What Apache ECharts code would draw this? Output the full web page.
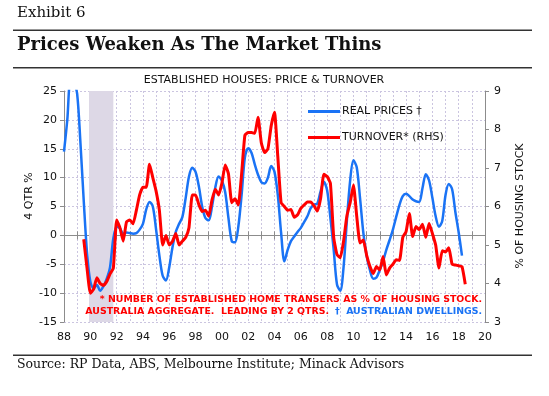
<!DOCTYPE html>
<html>
<head>
<meta charset="utf-8">
<script src="https://cdn.jsdelivr.net/npm/echarts@6/dist/echarts.min.js"></script>
<style>
html,body{margin:0;padding:0;background:#fff;}
#c{width:549px;height:396px;}
</style>
</head>
<body>
<div id="c"></div>
<script>
// Real prices (4 QTR %), quarterly from 1988 Q1
const pricesStart = 1988.0;
const realPrices = [
  14.5, 20, 27, 26.5,
  24.5, 16, 6, -3,
  -8, -9.2, -8.6, -9.6,
  -8.8, -7.5, -5.5, -0.5,
  1.5, 1.2, 0.3, 0.5,
  0.4, 0.3, 0.4, 1.0,
  2.0, 4.5, 5.8, 5.0,
  1.0, -3.5, -7.0, -7.8,
  -5.5, -2.0, 0.6, 2.0,
  3.2, 6.5, 10.2, 11.7,
  11.0, 8.5, 5.0, 3.0,
  2.6, 5.0, 8.3, 10.2,
  9.5, 7.5, 3.0, -1.0,
  -1.2, 1.5, 7.0, 13.5,
  15.1, 14.3, 12.3, 10.5,
  9.2, 9.0, 10.0, 12.0,
  11.0, 7.0, 0.5, -4.5,
  -2.5, -1.0, -0.2, 0.6,
  1.3, 2.3, 3.3, 4.7,
  5.3, 5.5, 7.6, 9.3,
  7.8, 3.0, -2.5, -8.5,
  -9.6, -5.5, 2.5, 9.5,
  13.0, 11.8, 6.5, 0.5,
  -3.5, -6.0, -7.5, -7.3,
  -6.0, -4.5, -2.5, -0.8,
  1.0, 3.2, 5.3, 6.8,
  7.2, 6.8, 6.2, 5.9,
  5.8, 8.2, 10.6, 9.5,
  6.5, 3.3, 1.5, 2.5,
  7.0, 8.9, 8.0, 4.0,
  0.5, -3.5
];
// Turnover (% of housing stock, RHS), quarterly from 1989 Q3
const turnoverStart = 1989.5;
const turnover = [
  5.15, 4.4,
  3.75, 3.85, 4.15, 4.0,
  3.95, 4.05, 4.25, 4.4,
  5.65, 5.45, 5.1, 5.6,
  5.65, 5.55, 5.9, 6.3,
  6.5, 6.5, 7.1, 6.75,
  6.4, 5.9, 5.0, 5.25,
  5.0, 5.1, 5.3, 5.0,
  5.1, 5.2, 5.45, 6.3,
  6.3, 6.05, 5.87, 5.9,
  5.75, 6.17, 6.45, 6.3,
  6.6, 7.08, 6.85, 6.1,
  6.2, 6.04, 6.85, 7.85,
  7.92, 7.92, 7.9, 8.32,
  7.65, 7.4, 7.5, 8.1,
  8.45, 7.3, 6.1, 6.0,
  5.9, 5.92, 5.72, 5.78,
  5.95, 6.04, 6.12, 6.12,
  6.02, 5.88, 6.2, 6.84,
  6.78, 6.6, 5.2, 4.75,
  4.67, 5.1, 5.75, 6.1,
  6.56, 5.75, 5.05, 5.13,
  4.74, 4.45, 4.26, 4.44,
  4.35, 4.7, 4.22, 4.4,
  4.5, 4.62, 4.6, 5.2,
  5.35, 5.82, 5.22, 5.48,
  5.4, 5.54, 5.2, 5.56,
  5.3, 5.0, 4.4, 4.85,
  4.82, 4.93, 4.5, 4.48,
  4.46, 4.44, 3.98
];
const recession = [1989.9, 1991.75];
const xTickYears = [1988, 2020];
const leftTicks = [-15, 25, 5];
const rightTicks = [3, 9, 1];

const blueData = realPrices.map((v, i) => [pricesStart + i * 0.25, v]);
const redData = turnover.map((v, i) => [turnoverStart + i * 0.25, v]);

const BLUE = '#1a73f5';
const RED = '#ff0000';
const GRID = '#cbc5e0';
const AX = '#8c8c8c';
const SANS = '"DejaVu Sans", Verdana, sans-serif';
const SERIF = '"DejaVu Serif", serif';

const chart = echarts.init(document.getElementById('c'), null, {renderer: 'canvas'});
chart.setOption({
  animation: false,
  backgroundColor: '#fff',
  textStyle: {fontFamily: SANS},
  grid: {left: 64, right: 64, top: 91, bottom: 74, containLabel: false},
  legend: {
    orient: 'vertical',
    left: 303, top: 101,
    itemWidth: 32, itemHeight: 3, itemGap: 15,
    icon: 'rect',
    textStyle: {fontFamily: SANS, fontSize: 11, color: '#111', padding: [0, 0, 0, -3]},
    data: ['REAL PRICES \u2020', 'TURNOVER* (RHS)']
  },
  xAxis: [
    {
      type: 'value', min: xTickYears[0], max: xTickYears[1], interval: 2,
      position: 'bottom',
      axisLine: {show: false, onZero: false},
      axisTick: {show: false},
      splitLine: {show: false},
      axisLabel: {
        fontFamily: SANS, fontSize: 11, color: '#111', margin: 10,
        formatter: v => String(Math.round(v) % 100).padStart(2, '0')
      }
    },
    {
      type: 'value', min: xTickYears[0], max: xTickYears[1], interval: 1,
      position: 'bottom',
      axisLine: {show: true, onZero: true, onZeroAxisIndex: 0, lineStyle: {color: AX, width: 1}},
      axisTick: {show: true, inside: false, length: 4, lineStyle: {color: AX}},
      axisLabel: {show: false},
      splitLine: {show: true, lineStyle: {color: GRID, type: [2, 2], width: 1}}
    },
    {
      type: 'value', min: xTickYears[0], max: xTickYears[1], interval: 1,
      position: 'bottom',
      axisLine: {show: false, onZero: true, onZeroAxisIndex: 0},
      axisTick: {show: true, inside: true, length: 4, lineStyle: {color: AX}},
      axisLabel: {show: false},
      splitLine: {show: false}
    }
  ],
  yAxis: [
    {
      type: 'value', position: 'left',
      min: leftTicks[0], max: leftTicks[1], interval: leftTicks[2],
      axisLine: {show: true, lineStyle: {color: AX}},
      axisTick: {show: true, length: 4, lineStyle: {color: AX}},
      axisLabel: {fontFamily: SANS, fontSize: 11, color: '#111', margin: 7},
      splitLine: {show: true, lineStyle: {color: GRID, type: [2, 2], width: 1}}
    },
    {
      type: 'value', position: 'right',
      min: rightTicks[0], max: rightTicks[1], interval: rightTicks[2],
      axisLine: {show: true, lineStyle: {color: AX}},
      axisTick: {show: true, length: 4, lineStyle: {color: AX}},
      axisLabel: {fontFamily: SANS, fontSize: 11, color: '#111', margin: 9},
      splitLine: {show: false}
    }
  ],
  series: [
    {
      name: 'REAL PRICES \u2020', type: 'line', xAxisIndex: 0, yAxisIndex: 0,
      data: blueData, symbol: 'none', smooth: 0.3, clip: true, z: 3,
      lineStyle: {color: BLUE, width: 2.5}, itemStyle: {color: BLUE},
      markArea: {
        silent: true,
        itemStyle: {color: '#ddd8e6'},
        data: [[{xAxis: recession[0]}, {xAxis: recession[1]}]]
      }
    },
    {
      name: 'TURNOVER* (RHS)', type: 'line', xAxisIndex: 0, yAxisIndex: 1,
      data: redData, symbol: 'none', smooth: 0.15, clip: true, z: 4,
      lineStyle: {color: RED, width: 3}, itemStyle: {color: RED}
    }
  ],
  graphic: [
    {type: 'text', left: 17, top: 6, style: {text: 'Exhibit 6', font: '15px ' + SERIF, fill: '#111'}},
    {type: 'rect', shape: {x: 13, y: 29.5, width: 519, height: 1.5}, style: {fill: '#333'}},
    {type: 'text', left: 17, top: 36, style: {text: 'Prices Weaken As The Market Thins', font: 'bold 18px ' + SERIF, fill: '#111'}},
    {type: 'rect', shape: {x: 13, y: 67, width: 519, height: 1.5}, style: {fill: '#333'}},
    {type: 'text', x: 264, y: 80, style: {text: 'ESTABLISHED HOUSES: PRICE & TURNOVER', font: '11px ' + SANS, fill: '#111', align: 'center', verticalAlign: 'middle'}},
    {type: 'text', x: 29, y: 196, rotation: Math.PI / 2, style: {text: '4 QTR %', font: '11px ' + SANS, fill: '#111', align: 'center', verticalAlign: 'middle'}},
    {type: 'text', x: 520, y: 206, rotation: Math.PI / 2, style: {text: '% OF HOUSING STOCK', font: '11px ' + SANS, fill: '#111', align: 'center', verticalAlign: 'middle'}},
    {type: 'text', x: 482, y: 300, z: 10, style: {text: '* NUMBER OF ESTABLISHED HOME TRANSERS AS % OF HOUSING STOCK.', font: 'bold 9.4px ' + SANS, fill: RED, align: 'right', verticalAlign: 'middle'}},
    {type: 'text', x: 482, y: 312, z: 10, style: {text: '\u2020  AUSTRALIAN DWELLINGS.', font: 'bold 9.4px ' + SANS, fill: BLUE, align: 'right', verticalAlign: 'middle'}},
    {type: 'text', x: 329, y: 312, z: 10, style: {text: 'AUSTRALIA AGGREGATE.  LEADING BY 2 QTRS.', font: 'bold 9.4px ' + SANS, fill: RED, align: 'right', verticalAlign: 'middle'}},
    {type: 'rect', shape: {x: 13, y: 354.5, width: 519, height: 1.5}, style: {fill: '#333'}},
    {type: 'text', left: 17, top: 358, style: {text: 'Source: RP Data, ABS, Melbourne Institute; Minack Advisors', font: '12.5px ' + SERIF, fill: '#111'}}
  ]
});
</script>
</body>
</html>
